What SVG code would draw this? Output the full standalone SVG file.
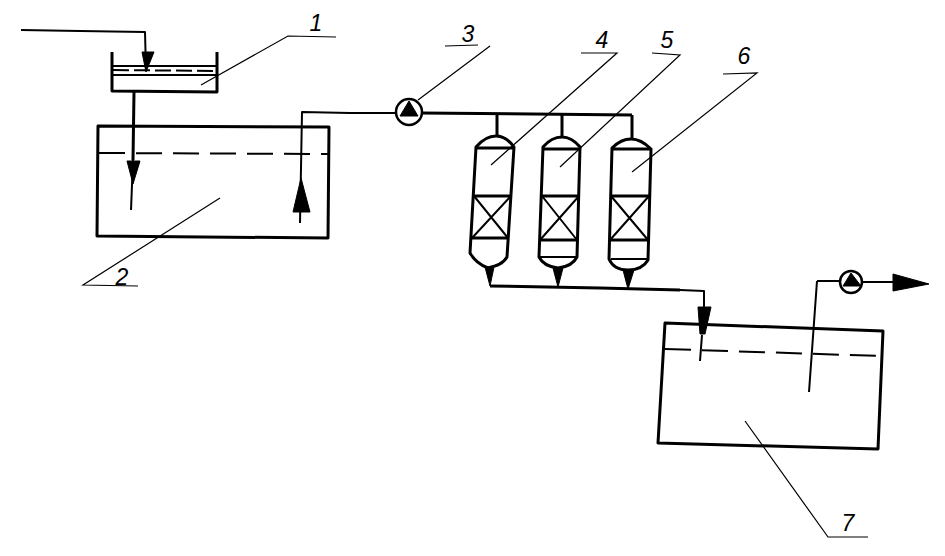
<svg xmlns="http://www.w3.org/2000/svg" width="945" height="556" viewBox="0 0 945 556">
<defs>
<style>
.l{fill:none;stroke:#000;stroke-width:2;stroke-linejoin:round}
.b{fill:none;stroke:#000;stroke-width:3;stroke-linejoin:round}
.t{fill:none;stroke:#000;stroke-width:1.2}
.d{fill:none;stroke:#000;stroke-width:2;stroke-dasharray:26 11}
.s{fill:none;stroke:#000;stroke-width:2;stroke-dasharray:16 5}
.h{fill:#000;stroke:#000;stroke-width:1;stroke-linejoin:round}
.c{fill:#fff;stroke:#000;stroke-width:2.5}
text{font-family:"Liberation Sans",Arial,sans-serif;font-style:italic;font-size:23px;fill:#000;text-anchor:middle}
</style>
</defs>
<rect width="945" height="556" fill="#fff"/>
<g id="connectors">
<path class="l" d="M21 30L80 31L145 32L146 70"/>
<polygon class="h" points="142,52 154,52 146,72"/>
<path class="b" d="M134 92L133 160"/><path class="l" d="M133 160L131 210"/>
<polygon class="h" points="127,161 140,161 133,184"/>
<path class="l" d="M300 223L302 112L350 113"/>
<polygon class="h" points="301,178 293,212 310,212"/>
<path class="l" d="M350 113L395 113"/>
<path class="b" d="M420 113L632 115"/>
<path class="b" d="M497 115V136M562 115V137M632 115V139"/>
<path class="b" d="M490 286L600 288L680 290"/><path class="l" d="M680 290L704 291L704 310M702 335L700 361"/>
<path class="h" d="M698 307L711 307L705 334L700 334Z"/>
<path class="l" d="M817 281L840 281M862 282L893 282M817 281L809 392"/>
<polygon class="h" points="893,274 929,284 893,291"/>
</g>
<g id="node-1">
<path class="b" d="M112 52L112 91L217 92L217 52"/>
<path class="l" d="M112 66L216 66M112 75L216 75"/>
<path class="s" d="M113 70L216 71"/>
<path class="t" d="M201 85L288 36L336 37"/>
<text x="316" y="31">1</text>
</g>
<g id="node-2">
<path class="b" d="M98 126L329 127L328 238L97 236Z"/>
<path class="d" d="M99 153L329 154"/>
<path class="t" d="M220 198L83 285L138 286"/>
<text x="122" y="285">2</text>
</g>
<g id="node-3">
<circle class="c" cx="409" cy="112" r="13"/>
<polygon class="h" points="409,101 400,116 418,116"/>
<path class="t" d="M418 100L490 46M445 46L478 45"/>
<text x="468" y="42">3</text>
</g>
<g id="node-4">
<path class="b" d="M476 147C483 139 490 136 496 136C503 136 509 140 514 147L507 257C503 264 496 266 488 268C480 265 474 260 470 253Z"/>
<path class="b" d="M476 148H514M474 196H511M472 238H508"/>
<path class="l" d="M474 196L508 238M511 196L472 238"/>
<polygon class="h" points="485,267 494,267 490,286"/>
<path class="t" d="M491 165L617 53L581 53"/>
<text x="602" y="48">4</text>
</g>
<g id="node-5">
<path class="b" d="M543 147C549 140 556 137 562 137C569 137 575 141 580 147L577 257C574 263 567 267 558 268C549 267 542 263 539 257Z"/>
<path class="b" d="M543 149H580M542 196H579M540 240H577"/>
<path class="l" d="M542 196L577 240M579 196L540 240M540 257H577"/>
<polygon class="h" points="553,268 563,268 558,287"/>
<path class="t" d="M560 167L680 55L652 53"/>
<text x="667" y="48">5</text>
</g>
<g id="node-6">
<path class="b" d="M612 148C618 142 625 139 631 139C638 139 645 143 651 149L648 260C644 267 637 270 628 270C619 270 612 266 609 259Z"/>
<path class="b" d="M612 149H651M611 196H649M610 240H648"/>
<path class="l" d="M611 196L648 240M649 196L610 240M611 259H647"/>
<polygon class="h" points="623,270 634,270 628,289"/>
<path class="t" d="M632 172L757 73L723 74"/>
<text x="744" y="64">6</text>
</g>
<g id="node-7">
<path class="b" d="M665 323L883 331L878 449L658 443Z"/>
<path class="d" d="M665 349L881 356"/>
<path class="t" d="M745 421L828 537L868 537"/>
<text x="848" y="531">7</text>
</g>
<g id="node-8">
<circle class="c" cx="851" cy="282" r="11"/>
<polygon class="h" points="851,273 843,286 861,286"/>
</g>
</svg>
